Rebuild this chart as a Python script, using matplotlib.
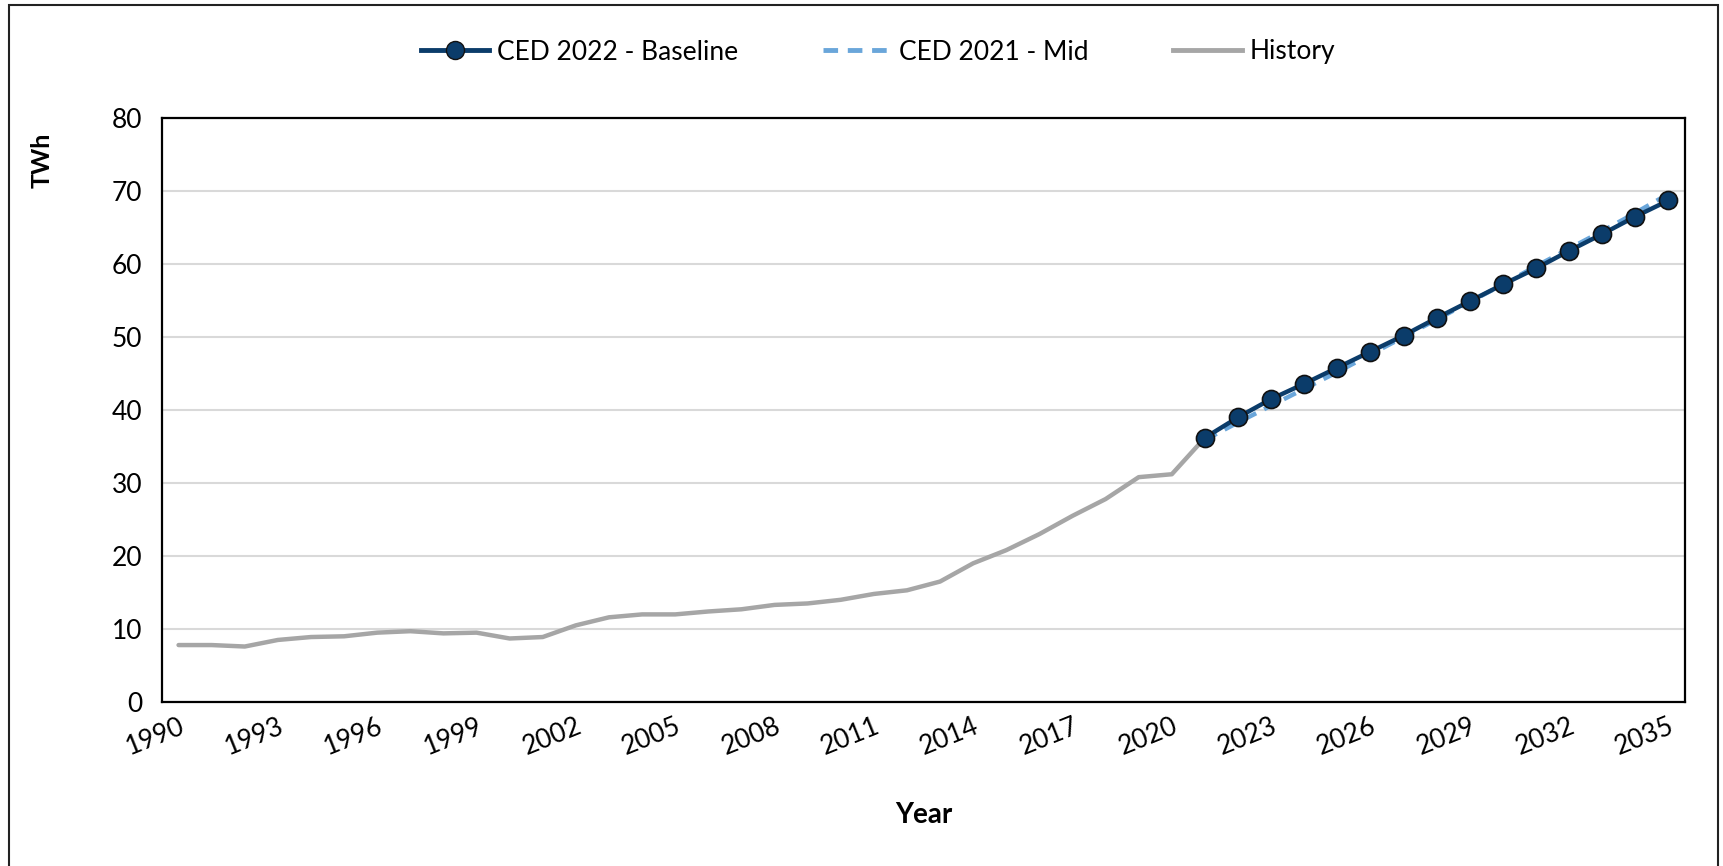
import matplotlib
matplotlib.use("Agg")
import matplotlib.pyplot as plt
from matplotlib.lines import Line2D
import numpy as np

plt.rcParams['font.family'] = ['Lato', 'DejaVu Sans']

hist_years = list(range(1990, 2022))
history = [7.8, 7.8, 7.6, 8.5, 8.9, 9.0, 9.5, 9.7, 9.4, 9.5, 8.7, 8.9,
           10.5, 11.6, 12.0, 12.0, 12.4, 12.7, 13.3, 13.5, 14.0, 14.8,
           15.3, 16.5, 19.0, 20.8, 23.0, 25.5, 27.8, 30.8, 31.2, 36.2]

fc_years = list(range(2021, 2036))
baseline_2022 = [36.2, 39.0, 41.5, 43.6, 45.8, 48.0, 50.2, 52.6, 54.9, 57.2,
                 59.4, 61.8, 64.1, 66.5, 68.7]
mid_2021 = [35.9, 38.3, 40.6, 42.9, 45.2, 47.6, 50.0, 52.4, 54.8, 57.2,
            59.7, 62.1, 64.5, 67.0, 69.6]

tick_years = list(range(1990, 2036, 3))
yticks = [0, 10, 20, 30, 40, 50, 60, 70, 80]

W, H = 1724, 866
fig = plt.figure(figsize=(W / 100, H / 100), dpi=100)
ax = fig.add_axes([162 / W, 1 - 702 / H, (1685 - 162) / W, (702 - 118) / H])

c_hist = '#A6A6A6'
c_base = '#0B3C6A'
c_mid = '#6AA6DA'

ax.plot(hist_years, history, color=c_hist, lw=3.2, solid_capstyle='round', zorder=2)
ax.plot(fc_years, mid_2021, color=c_mid, lw=3.2, ls=(0, (3, 2)), zorder=3)
ax.plot(fc_years, baseline_2022, color=c_base, lw=3.2, marker='o', ms=13,
        markerfacecolor=c_base, markeredgecolor='#111111', markeredgewidth=1.2, zorder=4)

ax.set_xlim(1989.5, 2035.5)
ax.set_ylim(0, 80)
ax.set_yticks(yticks)
ax.set_xticks(tick_years)
ax.set_xticklabels([str(y) for y in tick_years], rotation=22, ha='right',
                   rotation_mode='anchor', fontsize=19)
ax.tick_params(axis='y', labelsize=19, length=0, pad=14)
ax.tick_params(axis='x', length=0, pad=8)
ax.grid(axis='y', color='#D9D9D9', lw=1.5)
ax.set_axisbelow(True)
for s in ax.spines.values():
    s.set_color('black')
    s.set_linewidth(1.6)

fig.text(42 / W, 1 - 160 / H, 'TWh', rotation=90, fontsize=18, fontweight='bold',
         ha='center', va='center')
fig.text(924 / W, 1 - 815 / H, 'Year', fontsize=20, fontweight='bold',
         ha='center', va='center')

handles = [
    Line2D([], [], color=c_base, lw=3.5, marker='o', ms=13, markerfacecolor=c_base,
           markeredgecolor='#111111'),
    Line2D([], [], color=c_mid, lw=3.5, ls=(0, (3, 2))),
    Line2D([], [], color=c_hist, lw=3.5),
]
fig.legend(handles, ['CED 2022 - Baseline', 'CED 2021 - Mid', 'History'],
           loc='center', bbox_to_anchor=(878 / W, 1 - 52 / H), ncol=3, frameon=False,
           fontsize=19, handlelength=2.6, columnspacing=3.2, handletextpad=0.3)

# outer frame
fig.add_artist(plt.Rectangle((9 / W, -0.01), (1718 - 9) / W, 1 - 5 / H + 0.01,
                             transform=fig.transFigure, fill=False, ec='#222222', lw=1.5))

fig.savefig('out.png', dpi=100)
